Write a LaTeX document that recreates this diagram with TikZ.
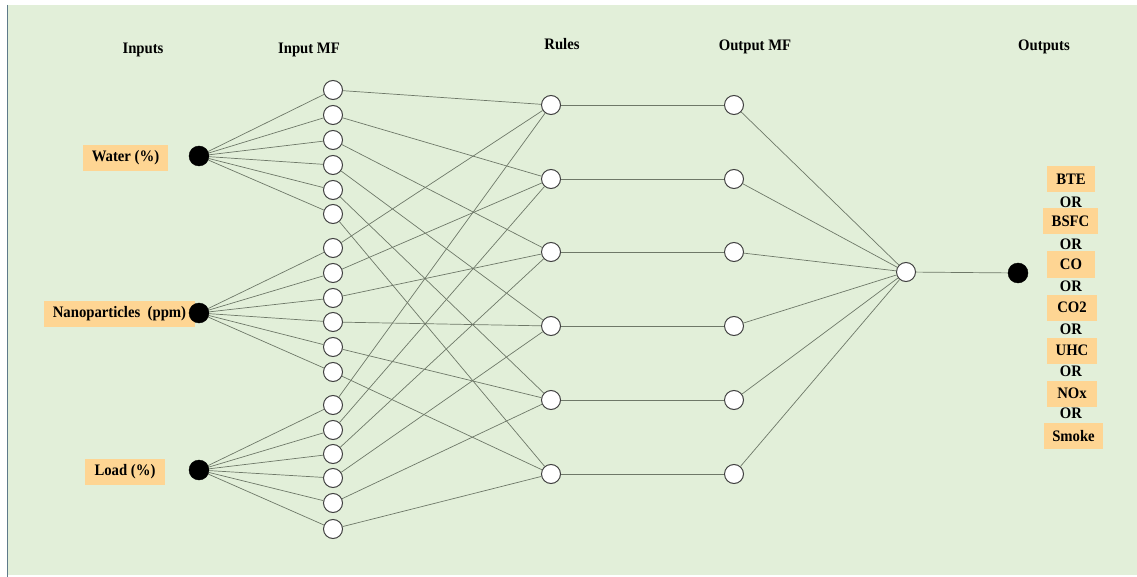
\documentclass[tikz,border=0pt]{standalone}
\usepackage{fontspec}
\setmainfont{Liberation Serif}
\newfontfamily\condserif[FakeStretch=0.92]{Liberation Serif}
\begin{document}
\begin{tikzpicture}[x=1pt,y=-1pt,
  mf/.style={circle,draw=black!75,fill=white,line width=1pt,minimum size=19pt,inner sep=0pt},
  dot/.style={circle,fill=black,draw=black,minimum size=20pt,inner sep=0pt},
  lbl/.style={fill=boxor,font=\condserif\bfseries\fontsize{16}{18}\selectfont,inner sep=0pt,minimum height=26pt},
  hdr/.style={font=\condserif\bfseries\fontsize{16}{18}\selectfont},
  orl/.style={font=\condserif\bfseries\fontsize{16}{18}\selectfont,inner sep=0pt},
  conn/.style={draw=linegray,line width=0.7pt}]
\definecolor{bggreen}{HTML}{E2EFD9}
\definecolor{boxor}{HTML}{FED593}
\definecolor{linegray}{HTML}{6E7868}
\definecolor{edgeblue}{HTML}{5E7A8A}
\useasboundingbox (0,0) rectangle (1137,577);
\fill[white] (0,0) rectangle (1137,577);
\fill[bggreen] (8,5) rectangle (1137,575);
\draw[edgeblue,line width=1.2pt] (7.5,5) -- (7.5,577);
% headers
\node[hdr] (hInputs) at (143,50) {Inputs};
\node[hdr] (hInMF) at (309,50) {Input MF};
\node[hdr] (hRules) at (562,44) {Rules};
\node[hdr] (hOutMF) at (755,47) {Output MF};
\node[hdr] (hOutputs) at (1044,47) {Outputs};
% input labels
\node[lbl,minimum width=85pt] (lWater) at (125.5,158) {Water (\%)};
\node[lbl,minimum width=151pt] (lNano) at (119.5,314) {Nanoparticles\ \ (ppm)};
\node[lbl,minimum width=80pt] (lLoad) at (125,472) {Load (\%)};
% input nodes
\node[dot] (in1) at (199,156) {};
\node[dot] (in2) at (199,313) {};
\node[dot] (in3) at (199,470) {};
% MF nodes
\foreach \i/\y in {1/90,2/115,3/140,4/165,5/190,6/214,
                   7/248,8/273,9/298,10/322,11/347,12/372,
                   13/405,14/430,15/454,16/478,17/503,18/529}{
  \node[mf] (m\i) at (333,\y) {};
}
% rules and output MF
\foreach \j/\y in {1/105,2/179,3/252,4/326,5/400,6/474}{
  \node[mf] (r\j) at (551,\y) {};
  \node[mf] (o\j) at (734,\y) {};
}
\node[mf] (fin) at (906,272) {};
\node[dot] (out) at (1018,273) {};
% connectors
\foreach \k in {1,...,6}{
  \pgfmathtruncatemacro{\a}{\k}
  \pgfmathtruncatemacro{\b}{\k+6}
  \pgfmathtruncatemacro{\c}{\k+12}
  \draw[conn] (in1) -- (m\a);
  \draw[conn] (in2) -- (m\b);
  \draw[conn] (in3) -- (m\c);
  \draw[conn] (m\a) -- (r\k);
  \draw[conn] (m\b) -- (r\k);
  \draw[conn] (m\c) -- (r\k);
  \draw[conn] (r\k) -- (o\k);
  \draw[conn] (o\k) -- (fin);
}
\draw[conn] (fin) -- (out);
% outputs
\node[lbl,minimum width=48pt] (oBTE) at (1071,179) {BTE};
\node[orl] (or1) at (1071,202) {OR};
\node[lbl,minimum width=55pt] (oBSFC) at (1070.5,221) {BSFC};
\node[orl] (or2) at (1071,244) {OR};
\node[lbl,minimum width=48pt] (oCO) at (1071,264.5) {CO};
\node[orl] (or3) at (1071,286) {OR};
\node[lbl,minimum width=50pt] (oCO2) at (1072,307.5) {CO2};
\node[orl] (or4) at (1071,329) {OR};
\node[lbl,minimum width=50pt] (oUHC) at (1072,350.5) {UHC};
\node[orl] (or5) at (1071,371) {OR};
\node[lbl,minimum width=50pt] (oNOx) at (1072,393.5) {NOx};
\node[orl] (or6) at (1071,413) {OR};
\node[lbl,minimum width=59pt] (oSmoke) at (1073.5,436) {Smoke};
\end{tikzpicture}
\end{document}
